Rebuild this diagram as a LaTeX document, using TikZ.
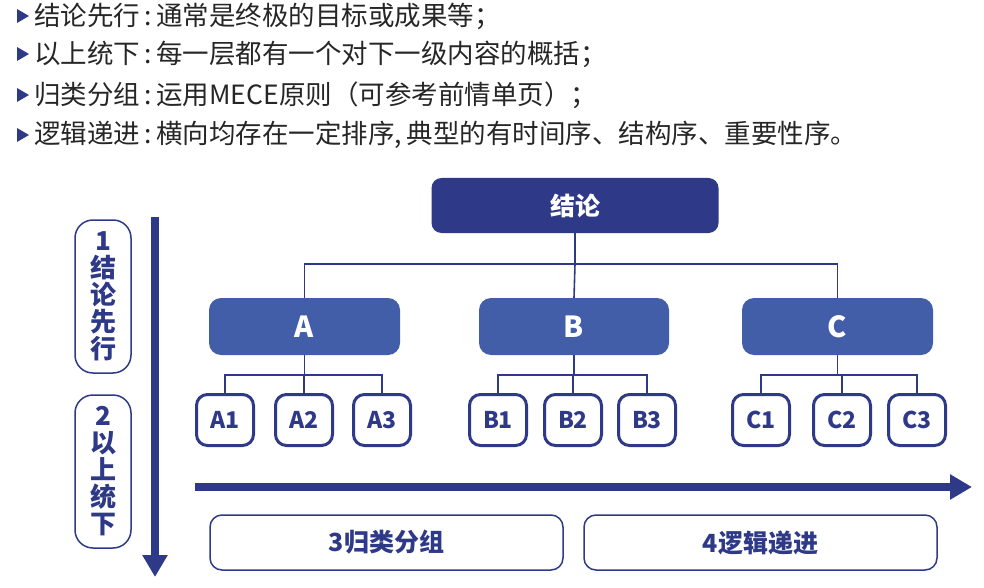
\documentclass[tikz,border=0pt]{standalone}
\usepackage{fontspec}
\setmainfont{Noto Sans CJK SC}
\usetikzlibrary{arrows.meta,calc}
\definecolor{navy}{HTML}{2E3A87}
\definecolor{mid}{HTML}{425EA8}
\begin{document}
\begin{tikzpicture}[x=1pt,y=-1pt,
  top/.style={fill=navy,rounded corners=10pt,text=white,font=\bfseries\fontsize{25}{26}\selectfont},
  lvl/.style={fill=mid,rounded corners=12pt,text=white,font=\bfseries\fontsize{29}{30}\selectfont},
  kid/.style={draw=navy,line width=3pt,rounded corners=11pt,text=navy,font=\bfseries\fontsize{23}{24}\selectfont},
  side/.style={draw=navy,line width=1.5pt,rounded corners=18pt,text=navy,font=\bfseries\fontsize{26}{27}\selectfont,align=center},
  bot/.style={draw=navy,line width=1.5pt,rounded corners=12pt,text=navy,font=\bfseries\fontsize{25}{26}\selectfont},
  ln/.style={draw=navy,line width=1.6pt},
  big/.style={draw=navy,line width=8pt,-{Triangle[length=22pt,width=24pt]}},
  txt/.style={anchor=west,inner sep=0pt,font=\fontsize{26.5}{28}\selectfont,text=black!85},
  tri/.style={fill=navy}]
\useasboundingbox (0,0) rectangle (984,588);
% bullet lines
\foreach \yy/\t [count=\i] in {16/{结论先行\,:\,通常是终极的目标或成果等；},54/{以上统下\,:\,每一层都有一个对下一级内容的概括；},95/{归类分组\,:\,运用MECE原则（可参考前情单页）；},135/{逻辑递进\,:\,横向均存在一定排序{,}\,典型的有时间序、结构序、重要性序。}}{
  \fill[navy] (17,\yy-7) -- (29,\yy) -- (17,\yy+7) -- cycle;
  \node[txt] (t\i) at (34,\yy) {\t};
}
% top
\node[top,minimum width=287pt,minimum height=55pt] (R) at (575,205.5) {结论};
\node[lvl,minimum width=191pt,minimum height=57pt] (A) at (304.5,326.5) {A};
\node[lvl,minimum width=190pt,minimum height=57pt] (B) at (574,326.5) {B};
\node[lvl,minimum width=191pt,minimum height=57pt] (C) at (837.5,326.5) {C};
\foreach \n/\x in {A1/225,A2/304,A3/382,B1/498,B2/573,B3/647,C1/761,C2/842,C3/917}{
  \node[kid,minimum width=57pt,minimum height=51pt] (\n) at (\x,420) {\n};
}
\coordinate (j0) at (575,264);
\draw[ln] (R.south) -- (j0);
\draw[ln] (A.north) |- (j0) -| (C.north);
\draw[ln] (j0) -- (B.north);
\foreach \p/\a/\b/\c in {A/A1/A2/A3,B/B1/B2/B3,C/C1/C2/C3}{
  \coordinate (\p j) at ($(\p.south)+(0,20)$);
  \draw[ln] (\p.south) -- (\p j);
  \draw[ln] (\b.north) -- (\b.north |- \p j);
  \draw[ln] (\a.north) |- (\p j) -| (\c.north);
}
% side arrow
\coordinate (v0) at (155,217); \coordinate (v1) at (155,577);
\draw[big] (v0) -- (v1);
\node[side,minimum width=56pt,minimum height=153pt] (S1) at (103,296.5) {1\\结\\论\\先\\行};
\node[side,minimum width=56pt,minimum height=153pt] (S2) at (103,471.5) {2\\以\\上\\统\\下};
% horizontal arrow
\coordinate (h0) at (195,487); \coordinate (h1) at (972,487);
\draw[big] (h0) -- (h1);
\node[bot,minimum width=353pt,minimum height=55pt] (G) at (386.5,542.5) {3归类分组};
\node[bot,minimum width=353pt,minimum height=55pt] (L) at (760.5,542.5) {4逻辑递进};
\end{tikzpicture}
\end{document}
